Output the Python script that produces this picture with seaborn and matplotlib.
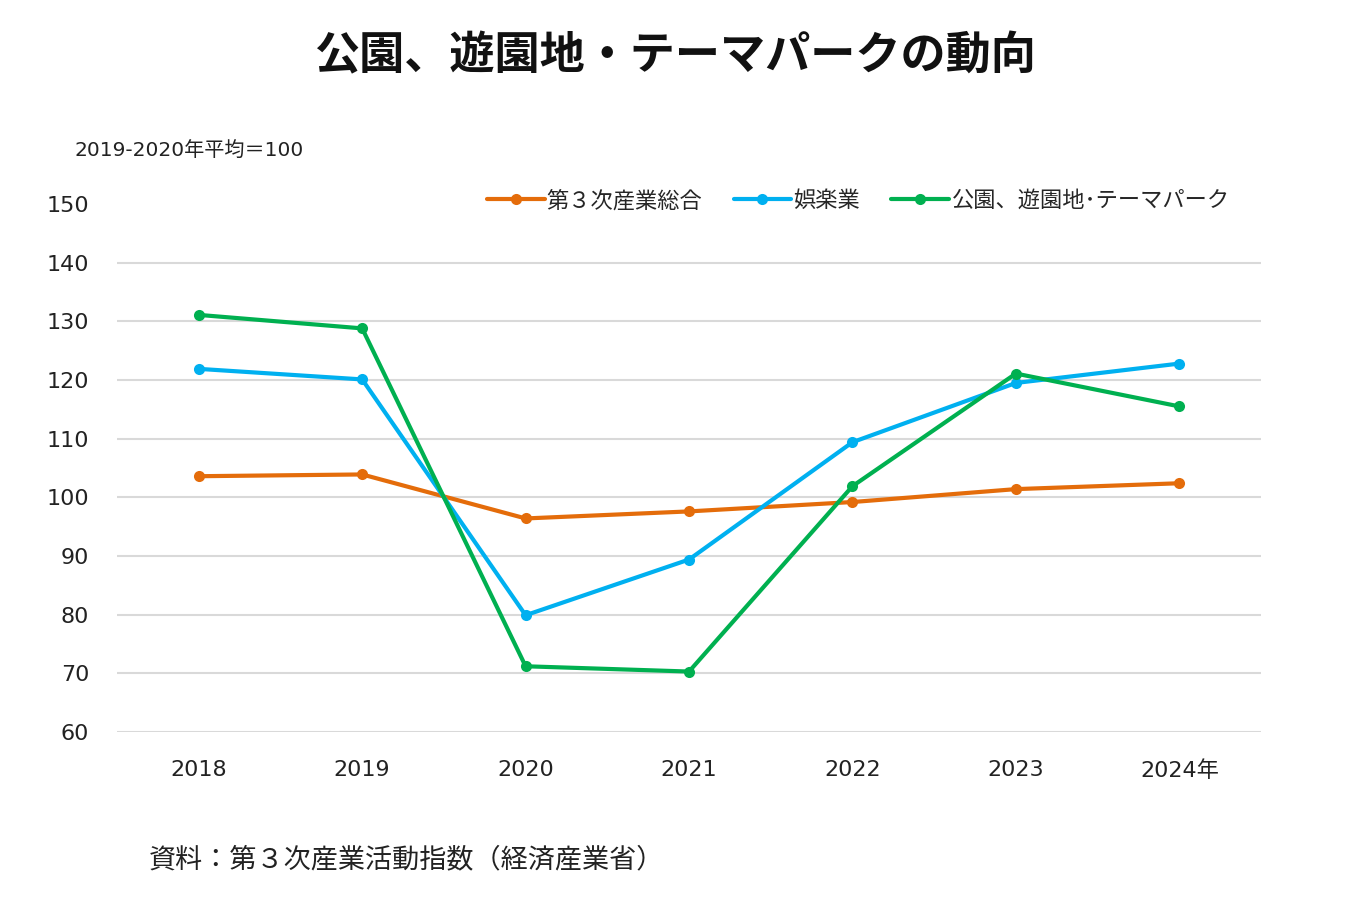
import pandas as pd
import matplotlib
matplotlib.use("Agg")
import matplotlib.pyplot as plt
import seaborn as sns

# 公園、遊園地・テーマパークの動向（2019-2020年平均＝100）
years = ["2018", "2019", "2020", "2021", "2022", "2023", "2024年"]
daisanji = [103.6, 103.9, 96.4, 97.6, 99.2, 101.4, 102.4]
goraku = [121.9, 120.1, 79.9, 89.4, 109.4, 119.5, 122.8]
koen = [131.1, 128.8, 71.2, 70.3, 101.9, 121.1, 115.5]

series_names = ["第３次産業総合", "娯楽業", "公園、遊園地･テーマパーク"]
colors = ["#E46C0A", "#00B0F0", "#00B050"]

df = pd.DataFrame({
    "年": years * 3,
    "指数": daisanji + goraku + koen,
    "系列": [series_names[0]] * 7 + [series_names[1]] * 7 + [series_names[2]] * 7,
})

sns.set_theme(style="white")
plt.rcParams["font.family"] = ["DejaVu Sans", "Noto Sans CJK JP"]

fig = plt.figure(figsize=(13.5, 9), dpi=100)
ax = fig.add_axes([0.0867, 0.1867, 0.8474, 0.5866])

sns.lineplot(data=df, x="年", y="指数", hue="系列", palette=colors,
             marker="o", markersize=8, markeredgewidth=0, linewidth=3,
             sort=False, ax=ax)

ax.set_xlim(-0.5, len(years) - 0.5)
ax.set_ylim(60, 150)
ax.set_yticks(range(60, 151, 10))
ax.grid(axis="y", color="#D9D9D9", linewidth=1.5)
ax.yaxis.get_gridlines()[-1].set_visible(False)
for s in ax.spines.values():
    s.set_visible(False)
ax.tick_params(axis="both", length=0, labelsize=16, colors="#222222")
ax.tick_params(axis="y", pad=20)
ax.tick_params(axis="x", pad=20)
ax.set_xlabel("")
ax.set_ylabel("")

leg = ax.legend(loc="upper right", bbox_to_anchor=(0.99, 1.065), ncol=3,
                frameon=False, fontsize=16, handlelength=2.6,
                columnspacing=1.4, handletextpad=0.1)
for line in leg.get_lines():
    line.set_linewidth(3)

fig.text(0.5, 0.937, "公園、遊園地・テーマパークの動向", ha="center", va="center",
         fontsize=32.5, fontweight="bold", color="#111111")
fig.text(0.055, 0.832, "2019-2020年平均＝100", ha="left", va="center",
         fontsize=14.5, color="#222222")
fig.text(0.11, 0.044, "資料：第３次産業活動指数（経済産業省）", ha="left", va="center",
         fontsize=19.5, color="#222222")

fig.savefig("out.png", dpi=100)
